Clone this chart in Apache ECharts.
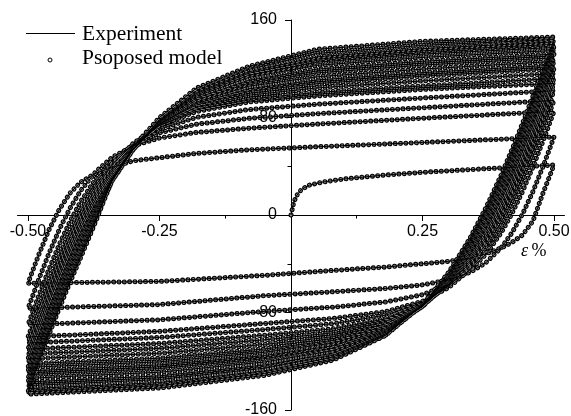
<!DOCTYPE html>
<html>
<head>
<meta charset="utf-8">
<script src="https://cdn.jsdelivr.net/npm/echarts@6/dist/echarts.min.js"></script>
<style>
  html, body { margin: 0; padding: 0; background: #fff; }
  #chart { width: 571px; height: 416px; }
</style>
</head>
<body>
<div id="chart"></div>
<script>
// Strain-controlled cyclic test, strain amplitude ±0.50 %.
// Monotonic first loading (strain %, stress MPa)
const loadStrain = [0, 0.005, 0.01, 0.02, 0.035, 0.06, 0.10, 0.17, 0.25, 0.35, 0.43, 0.50];
const loadStress = [0, 10, 15.5, 21, 24.5, 27, 29.5, 32.5, 35, 37.5, 39.3, 41];

// Strain stations of every half-cycle (unloading from +0.50, reloading from -0.50)
const strainDown = [0.50, 0.48, 0.46, 0.44, 0.42, 0.40, 0.37, 0.34, 0.30, 0.25, 0.18, 0.08, -0.05, -0.25, -0.50];
const strainUp   = [-0.50, -0.48, -0.46, -0.44, -0.42, -0.40, -0.37, -0.34, -0.30, -0.25, -0.18, -0.08, 0.05, 0.25, 0.50];

// Stress (MPa) at the strain stations, cycle by cycle: +0.50 -> -0.50
const descending = [
  [41, 19, -5, -16.5, -22.5, -27, -32, -35.5, -38, -40, -42.7, -45.5, -49.5, -54.5, -56],
  [64, 40.7, 19.3, 0.6, -14.7, -26.7, -39.3, -47.1, -53.3, -57.3, -60.3, -63, -66.2, -73.5, -76.6],
  [85, 61.6, 39.4, 19, 1.1, -14.3, -32.5, -45.5, -57, -65.4, -71.4, -75.6, -79.1, -86, -90],
  [94, 70.6, 48.1, 27.2, 8.2, -8.5, -29.1, -44.8, -59.5, -70.8, -79.3, -84.9, -89, -95.5, -100],
  [102, 78.6, 56, 34.7, 15.2, -2.3, -24.3, -41.6, -58.3, -71.8, -82.2, -89.2, -94, -100.5, -105],
  [108, 84.6, 61.9, 40.4, 20.4, 2.5, -20.6, -39.2, -57.6, -72.9, -85.1, -93.4, -98.6, -105.5, -110],
  [112, 88.6, 65.8, 44.2, 23.9, 5.6, -18.2, -37.5, -57.2, -73.8, -87.4, -96.7, -102.4, -109.5, -114],
  [116, 92.6, 69.7, 48, 27.6, 8.9, -15.6, -35.7, -56.5, -74.5, -89.4, -99.9, -106.2, -113.5, -118],
  [120, 96.6, 73.7, 51.8, 31.3, 12.2, -12.9, -33.8, -55.6, -74.9, -91.2, -102.9, -109.9, -117.5, -122],
  [123, 99.6, 76.7, 54.7, 34, 14.7, -10.8, -32.2, -54.8, -75, -92.5, -105.1, -112.6, -120.5, -125],
  [126, 102.6, 79.6, 57.6, 36.7, 17.3, -8.6, -30.5, -54, -75.1, -93.7, -107.3, -115.3, -123, -128],
  [129, 105.6, 82.6, 60.5, 39.5, 19.9, -6.4, -28.7, -52.9, -75, -94.6, -109.3, -117.9, -126, -131],
  [132, 108.6, 85.6, 63.4, 42.3, 22.6, -4.1, -26.9, -51.8, -74.8, -95.5, -111.3, -120.6, -129, -134],
  [135, 111.6, 88.5, 66.3, 45.1, 25.1, -1.8, -25, -50.8, -74.6, -96.4, -113.3, -123.1, -132, -137],
  [137.5, 114.1, 91, 68.7, 47.4, 27.3, 0.2, -23.5, -49.9, -74.5, -97.3, -115.1, -125.7, -135, -140],
  [140, 116.6, 93.5, 71.1, 49.8, 29.6, 2.2, -21.9, -48.7, -74.1, -97.8, -116.5, -127.9, -137.5, -142.5],
  [142, 118.6, 95.5, 73.1, 51.7, 31.4, 3.7, -20.7, -47.9, -73.9, -98.4, -118, -130, -140, -145],
  [144, 120.6, 97.5, 75, 53.6, 33.2, 5.4, -19.3, -46.9, -73.4, -98.8, -119.1, -131.6, -142, -147]
];

// Stress (MPa) at the strain stations, cycle by cycle: -0.50 -> +0.50
const ascending = [
  [-56, -33, -12, 5, 18, 27, 34.5, 39, 44.5, 47, 50.5, 53.5, 56, 59.5, 64],
  [-76.6, -53.3, -31.3, -11.4, 5.7, 19.9, 36.1, 47.3, 56.7, 63.2, 67.7, 71.2, 74.6, 79.4, 85],
  [-90, -66.6, -44.2, -23.6, -5.1, 10.9, 30.3, 44.6, 57.7, 67.4, 74.5, 79.3, 83.1, 88, 94],
  [-100, -76.6, -54, -32.8, -13.5, 3.7, 25.2, 41.8, 57.8, 70.4, 80.1, 86.5, 90.9, 96, 102],
  [-105, -81.6, -58.9, -37.5, -17.7, 0.1, 22.8, 41, 58.8, 73.4, 84.9, 92.7, 97.7, 103, 108],
  [-110, -86.6, -63.8, -42.3, -22.1, -4, 19.4, 38.3, 57.5, 73.4, 86.3, 95.1, 100.6, 105.9, 112],
  [-114, -90.6, -67.7, -46.1, -25.8, -7.3, 16.8, 36.6, 56.9, 74.1, 88.4, 98.3, 104.3, 110, 116],
  [-118, -94.6, -71.7, -49.9, -29.4, -10.5, 14.2, 34.7, 56.1, 74.7, 90.3, 101.4, 107.8, 113.9, 120],
  [-122, -98.6, -75.7, -53.8, -33.1, -13.9, 11.3, 32.5, 54.8, 74.5, 91.4, 103.6, 110.8, 116.8, 123],
  [-125, -101.6, -78.6, -56.7, -35.9, -16.5, 9.2, 30.8, 53.9, 74.6, 92.6, 105.7, 113.4, 119.7, 126],
  [-128, -104.4, -81.4, -59.3, -38.5, -19, 7.4, 30.4, 54.1, 75.3, 94.3, 108.2, 116.6, 123, 129],
  [-131, -107.3, -84.1, -62, -41.1, -21.6, 5.6, 29.9, 54.2, 76.1, 95.9, 110.6, 119.7, 126.1, 132],
  [-134, -110.1, -86.8, -64.8, -43.8, -24.1, 3.7, 29.5, 54.2, 76.7, 97.4, 112.9, 122.8, 129.3, 135],
  [-137, -113, -89.5, -67.5, -46.4, -26.6, 1.7, 28.8, 54, 77.1, 98.6, 114.7, 125.4, 132, 137.5],
  [-140, -115.8, -92.3, -70.2, -49.2, -29.2, -0.4, 28.1, 53.7, 77.2, 99.6, 116.4, 127.9, 134.7, 140],
  [-142.5, -118.1, -94.4, -72.3, -51.3, -31.3, -1.8, 28.3, 53.9, 77.7, 100.4, 117.5, 129.8, 136.5, 142],
  [-145, -120.3, -96.5, -74.5, -53.5, -33.4, -3.3, 28.6, 54.4, 78.4, 101.8, 119.5, 132.6, 139.2, 144],
  [-147, -122, -98, -76, -55, -35, -4, 30, 56, 80, 104, 122, 136, 142.5, 146]
];

// Axis ticks and labels
const strainMajor = [-0.5, -0.25, 0.25, 0.5];
const strainMinor = [-0.375, -0.125, 0.125, 0.375];

// Whole loading history as one continuous path
const history = loadStrain.map((e, i) => [e, loadStress[i]]);
descending.forEach((row, k) => {
  row.forEach((s, i) => { if (i > 0) history.push([strainDown[i], s]); });
  ascending[k].forEach((s, i) => { if (i > 0) history.push([strainUp[i], s]); });
});

const chart = echarts.init(document.getElementById('chart'), null, { renderer: 'canvas' });

const sans = 'Liberation Sans';
const serif = 'Liberation Serif';

// Plot area: strain -0.52..0.52, stress -160..160. The axes cross at the origin,
// so each axis is shifted inward from its grid edge to the zero line.
const gridLeft = 17.5, gridWidth = 547, gridTop = 20, gridHeight = 390;
const xMin = -0.52, xMax = 0.52, yMin = -160, yMax = 160;
const yAxisShift = -gridWidth * (0 - xMin) / (xMax - xMin);
const xAxisShift = -gridHeight * (0 - yMin) / (yMax - yMin);

// Open-circle markers of the model, spaced evenly along the path
const ringSpacing = [0.01, 5.3];

chart.setOption({
  animation: false,
  backgroundColor: '#fff',
  grid: { left: gridLeft, width: gridWidth, top: gridTop, height: gridHeight, containLabel: false, outerBoundsMode: 'none' },
  xAxis: [
    {
      type: 'value', min: xMin, max: xMax, position: 'bottom', offset: xAxisShift,
      axisLine: { onZero: false, lineStyle: { color: '#000', width: 1 } },
      axisTick: { customValues: strainMajor, length: 6, lineStyle: { color: '#000' } },
      axisLabel: {
        customValues: strainMajor, margin: 9, color: '#000', fontSize: 16, fontFamily: sans,
        formatter: v => v.toFixed(2)
      },
      splitLine: { show: false }
    },
    {
      type: 'value', min: xMin, max: xMax, position: 'bottom', offset: xAxisShift,
      axisLine: { show: false, onZero: false },
      axisTick: { customValues: strainMinor, length: 3.5, lineStyle: { color: '#000' } },
      axisLabel: { show: false },
      splitLine: { show: false }
    }
  ],
  yAxis: {
    type: 'value', min: yMin, max: yMax, interval: 80, position: 'left', offset: yAxisShift,
    axisLine: { onZero: false, lineStyle: { color: '#000', width: 1 } },
    axisTick: { length: 6, lineStyle: { color: '#000' } },
    minorTick: { show: true, splitNumber: 2, length: 3.5, lineStyle: { color: '#000' } },
    axisLabel: { margin: 14, color: '#000', fontSize: 16, fontFamily: sans },
    splitLine: { show: false }
  },
  series: [
    {
      name: 'Psoposed model', type: 'line', data: history, xAxisIndex: 0,
      showSymbol: false, clip: false, silent: true, z: 2,
      lineStyle: { color: '#000', width: 5, type: ringSpacing, cap: 'round' }
    },
    {
      name: 'Psoposed model', type: 'line', data: history, xAxisIndex: 0,
      showSymbol: false, clip: false, silent: true, z: 3,
      lineStyle: { color: '#fff', width: 2.8, opacity: 0.55, type: ringSpacing, cap: 'round' }
    },
    {
      name: 'Experiment', type: 'line', data: history, xAxisIndex: 0,
      showSymbol: false, clip: false, silent: true, z: 4,
      lineStyle: { color: '#000', width: 1 }
    }
  ],
  graphic: [
    { type: 'line', shape: { x1: 26, y1: 33.5, x2: 75, y2: 33.5 }, style: { stroke: '#000', lineWidth: 1 } },
    { type: 'text', x: 82, y: 34.7, style: { text: 'Experiment', fill: '#000', fontSize: 21.5, fontFamily: serif, align: 'left', verticalAlign: 'middle' } },
    { type: 'circle', shape: { cx: 50, cy: 60, r: 2 }, style: { fill: '#fff', stroke: '#000', lineWidth: 1 } },
    { type: 'text', x: 82, y: 58.4, style: { text: 'Psoposed model', fill: '#000', fontSize: 21.5, fontFamily: serif, align: 'left', verticalAlign: 'middle' } },
    {
      type: 'text', x: 521, y: 251,
      style: {
        text: '{e|ε} {p|%}', fill: '#000', align: 'left', verticalAlign: 'middle',
        rich: {
          e: { fontStyle: 'italic', fontFamily: serif, fontSize: 18, fill: '#000' },
          p: { fontFamily: serif, fontSize: 18, fill: '#000' }
        }
      }
    }
  ]
});
</script>
</body>
</html>
